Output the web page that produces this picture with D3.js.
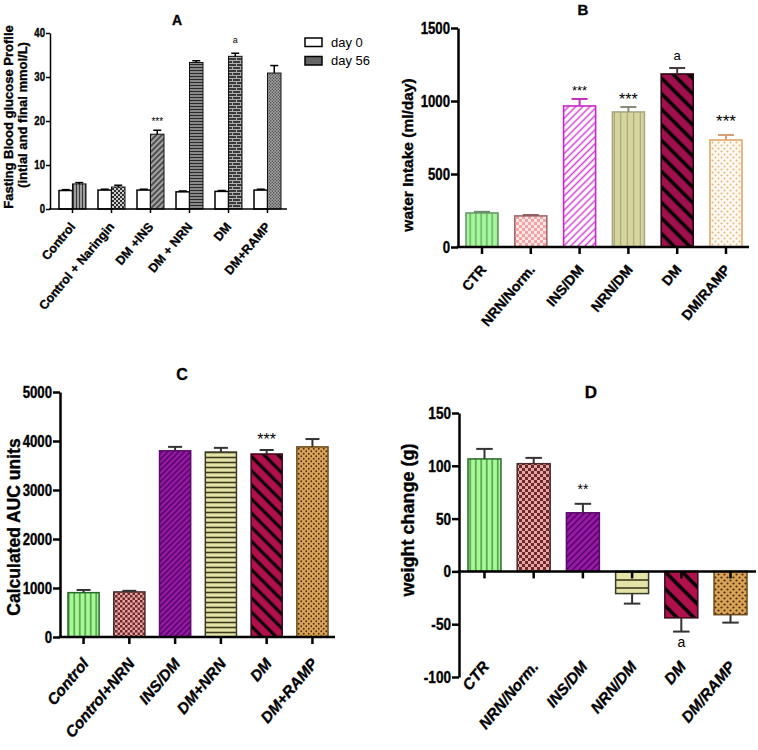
<!DOCTYPE html>
<html><head><meta charset="utf-8">
<script src="https://cdn.jsdelivr.net/npm/d3@7"></script>
<style>body{margin:0;background:#fff} svg{display:block}</style>
</head><body><svg id="chart" width="758" height="750"></svg>
<script>
// ---------- DATA ----------
const groupsA = ["Control", "Control + Naringin", "DM +INS", "DM + NRN", "DM", "DM+RAMP"];
const day0 = [4.2, 4.3, 4.3, 3.9, 4.0, 4.3];
const day0Err = [0.2, 0.2, 0.2, 0.2, 0.2, 0.2];
const day56 = [5.7, 5.0, 17.0, 33.3, 34.7, 30.9];
const day56Err = [0.3, 0.4, 0.9, 0.4, 0.7, 1.7];
const ticksA = [0, 10, 20, 30, 40];
const seriesA = ["day 0", "day 56"];

const groupsB = ["CTR", "NRN/Norm.", "INS/DM", "NRN/DM", "DM", "DM/RAMP"];
const waterIntake = [233, 213, 966, 925, 1185, 733];
const waterErr = [8, 6, 48, 34, 41, 34];
const ticksB = [0, 500, 1000, 1500];

const groupsC = ["Control", "Control+NRN", "INS/DM", "DM+NRN", "DM", "DM+RAMP"];
const aucValues = [905, 920, 3800, 3775, 3735, 3880];
const aucErr = [55, 22, 80, 85, 81, 160];
const ticksC = [0, 1000, 2000, 3000, 4000, 5000];

const groupsD = ["CTR", "NRN/Norm.", "INS/DM", "NRN/DM", "DM", "DM/RAMP"];
const weightChange = [106.5, 102, 55.5, -21, -44, -41];
const weightErr = [9.5, 5.5, 8.5, 9.5, 13, 7.5];
const ticksD = [-100, -50, 0, 50, 100, 150];

// ---------- SETUP ----------
const FONT = "'Liberation Sans', Arial, Helvetica, sans-serif";
const SQ = 0.8; // horizontal squeeze for condensed tick numerals
const svg = d3.select("#chart");
svg.append("rect").attr("width", 758).attr("height", 750).attr("fill", "#fff");
const defs = svg.append("defs");

function pat(id, w, h, bg, draw, tr) {
  const p = defs.append("pattern").attr("id", id).attr("patternUnits", "userSpaceOnUse")
    .attr("width", w).attr("height", h);
  if (tr) p.attr("patternTransform", tr);
  p.append("rect").attr("width", w).attr("height", h).attr("fill", bg);
  draw(p);
}
function vlines(id, bg, fg, sp, sw, tr) {
  pat(id, sp, 10, bg, p => p.append("line").attr("x1", sp / 2).attr("x2", sp / 2)
    .attr("y1", 0).attr("y2", 10).attr("stroke", fg).attr("stroke-width", sw), tr);
}
function hlines(id, bg, fg, sp, sw) {
  pat(id, 10, sp, bg, p => p.append("line").attr("y1", sp / 2).attr("y2", sp / 2)
    .attr("x1", 0).attr("x2", 10).attr("stroke", fg).attr("stroke-width", sw));
}
function checker(id, c1, c2, s) {
  pat(id, 2 * s, 2 * s, c1, p => {
    p.append("rect").attr("width", s).attr("height", s).attr("fill", c2);
    p.append("rect").attr("x", s).attr("y", s).attr("width", s).attr("height", s).attr("fill", c2);
  });
}
function dots(id, bg, fg, s, r) {
  pat(id, s, s, bg, p => {
    p.append("circle").attr("cx", s / 4).attr("cy", s / 4).attr("r", r).attr("fill", fg);
    p.append("circle").attr("cx", 3 * s / 4).attr("cy", 3 * s / 4).attr("r", r).attr("fill", fg);
  });
}
function brick(id, bg, fg) {
  pat(id, 8, 6, bg, p => {
    const l = (x1, y1, x2, y2) => p.append("line").attr("x1", x1).attr("y1", y1).attr("x2", x2).attr("y2", y2)
      .attr("stroke", fg).attr("stroke-width", 1);
    l(0, 0.5, 8, 0.5); l(0, 3.5, 8, 3.5); l(0.5, 0, 0.5, 3); l(4.5, 3, 4.5, 6);
  });
}

// A patterns (grayscale)
vlines("pA0", "#9c9c9c", "#3a3a3a", 3, 1);
checker("pA1", "#cfcfcf", "#2e2e2e", 2);
vlines("pA2", "#a4a4a4", "#2a2a2a", 4, 1.4, "rotate(45)");
hlines("pA3", "#a8a8a8", "#2a2a2a", 3, 1.5);
brick("pA4", "#3a3a3a", "#b0b0b0");
dots("pA5", "#a4a4a4", "#444", 3, 0.75);
// B patterns
vlines("pB0", "#a8f4a0", "#3a9a3a", 5.5, 1);
checker("pB1", "#fde6e6", "#f2a4a4", 3);
vlines("pB2", "#ffffff", "#d040d0", 5, 1.5, "rotate(45)");
vlines("pB3", "#d6d69c", "#9a9a7a", 6.5, 1);
vlines("pB4", "#a0104c", "#000", 11, 3.5, "rotate(-45)");
dots("pB5", "#fffaf4", "#eab070", 6, 1);
// C patterns
vlines("pC0", "#a8f898", "#1a6a1a", 5.5, 1);
checker("pC1", "#eaa4a4", "#6a2a2a", 2.5);
vlines("pC2", "#9a1aaa", "#4a0058", 4, 1.4, "rotate(45)");
hlines("pC3", "#e4e4a8", "#3c3a1c", 5, 1.6);
vlines("pC4", "#b0104c", "#000", 10, 3, "rotate(-45)");
dots("pC5", "#daa456", "#4a2a0a", 5, 0.9);
// D patterns
vlines("pD0", "#a8f898", "#1a6a1a", 5.5, 1);
checker("pD1", "#eaa4a4", "#6a2a2a", 3);
vlines("pD2", "#9a1aaa", "#4a0058", 4.5, 1.4, "rotate(45)");
hlines("pD3", "#e4e4a8", "#3c3a1c", 8, 1.6);
vlines("pD4", "#b0104c", "#000", 12, 3.5, "rotate(-45)");
dots("pD5", "#daa456", "#4a2a0a", 6, 1.1);

function txt(g, x, y, s, size, opts = {}) {
  const t = g.append("text").attr("x", x).attr("y", y).text(s)
    .attr("font-family", FONT).attr("font-size", size)
    .attr("font-weight", opts.weight || "bold").attr("font-style", opts.style || "normal")
    .attr("text-anchor", opts.anchor || "middle").attr("fill", opts.fill || "#000");
  if ((opts.weight || "bold") === "bold") t.attr("stroke", "#000").attr("stroke-width", 0.35);
  return t;
}
function squeezeTicks(ya, end) {
  ya.selectAll(".tick text").attr("fill", "#000").attr("stroke", "#000").attr("stroke-width", 0.35)
    .attr("x", -end / SQ).attr("transform", `scale(${SQ},1)`);
}

// ---------- PANEL A ----------
(function () {
  const g = svg.append("g");
  const x = d3.scaleBand().domain(groupsA).range([59, 281]).paddingInner(0.3077).paddingOuter(0);
  const y = d3.scaleLinear().domain([0, 40]).range([209, 33]);
  const bw = x.bandwidth() / 2;
  groupsA.forEach((grp, i) => {
    const x0 = x(grp);
    g.append("rect").attr("x", x0).attr("width", bw).attr("y", y(day0[i])).attr("height", y(0) - y(day0[i]))
      .attr("fill", "#fff").attr("stroke", "#000").attr("stroke-width", 1.5);
    g.append("rect").attr("x", x0 + bw).attr("width", bw).attr("y", y(day56[i])).attr("height", y(0) - y(day56[i]))
      .attr("fill", `url(#pA${i})`).attr("stroke", "#111").attr("stroke-width", 1);
    [[day0[i], day0Err[i], x0 + bw / 2], [day56[i], day56Err[i], x0 + 1.5 * bw]].forEach(([v, e, cx]) => {
      g.append("line").attr("x1", cx).attr("x2", cx).attr("y1", y(v)).attr("y2", y(v + e)).attr("stroke", "#000").attr("stroke-width", 1.5);
      g.append("line").attr("x1", cx - 4).attr("x2", cx + 4).attr("y1", y(v + e)).attr("y2", y(v + e)).attr("stroke", "#000").attr("stroke-width", 1.5);
    });
  });
  const ya = g.append("g").attr("transform", "translate(50,0)")
    .call(d3.axisLeft(y).tickValues(ticksA).tickFormat(d => String(d)).tickSize(4).tickSizeOuter(0).tickPadding(2));
  ya.attr("font-family", FONT).attr("font-size", 12).attr("font-weight", "bold");
  ya.select(".domain").attr("stroke", "#000").attr("stroke-width", 1.5);
  ya.selectAll(".tick line").attr("stroke", "#000").attr("stroke-width", 1.5);
  squeezeTicks(ya, 5);
  g.append("line").attr("x1", 49).attr("x2", 287).attr("y1", y(0)).attr("y2", y(0)).attr("stroke", "#000").attr("stroke-width", 1.5);
  const xa = g.append("g").attr("transform", `translate(0,${y(0)})`)
    .call(d3.axisBottom(x).tickSize(4).tickFormat(""));
  xa.select(".domain").remove();
  xa.selectAll(".tick line").attr("stroke", "#000").attr("stroke-width", 1.5);
  groupsA.forEach(grp => {
    txt(g, 0, 0, grp, 12.5, { anchor: "end" })
      .attr("transform", `translate(${x(grp) + x.bandwidth() / 2 + 3.5},227) rotate(-50)`);
  });
  // y label
  txt(g, 0, 0, "Fasting Blood glucose Profile", 13).attr("transform", "translate(13,117) rotate(-90)");
  txt(g, 0, 0, "(intial and final mmol/L)", 13).attr("transform", "translate(27,115) rotate(-90)");
  txt(g, 177, 25, "A", 14);
  // legend
  const leg = [{ fill: "#fff" }, { fill: "#666" }];
  seriesA.forEach((s, i) => {
    g.append("rect").attr("x", 305).attr("y", 38 + i * 18.5).attr("width", 17).attr("height", 8.5)
      .attr("fill", leg[i].fill).attr("stroke", "#000").attr("stroke-width", 1.5);
    txt(g, 331, 46.5 + i * 18.5, s, 13, { anchor: "start", weight: "normal" });
  });
  // annotations
  txt(g, x(groupsA[2]) + 1.5 * bw, 125, "***", 10, { weight: "normal" });
  txt(g, x(groupsA[4]) + 1.5 * bw, 43, "a", 9, { weight: "normal" });
})();

// ---------- generic panel ----------
function panel(o) {
  const g = svg.append("g");
  const x = d3.scaleBand().domain(o.groups).range(o.xRange).paddingInner(o.pad).paddingOuter(0);
  const y = d3.scaleLinear().domain(o.yDomain).range(o.yRange);
  const bw = x.bandwidth();
  const y0 = y(0);
  g.selectAll("rect.bar").data(o.values).join("rect").attr("class", "bar")
    .attr("x", (d, i) => x(o.groups[i])).attr("width", bw)
    .attr("y", d => Math.min(y(d), y0)).attr("height", d => Math.abs(y(d) - y0))
    .attr("fill", (d, i) => `url(#${o.pat}${i})`)
    .attr("stroke", (d, i) => o.strokes[i]).attr("stroke-width", o.barStroke);
  o.values.forEach((v, i) => {
    const cx = x(o.groups[i]) + bw / 2;
    const e = v >= 0 ? v + o.errs[i] : v - o.errs[i];
    g.append("line").attr("x1", cx).attr("x2", cx).attr("y1", y(v)).attr("y2", y(e))
      .attr("stroke", o.errColors[i]).attr("stroke-width", 2);
    g.append("line").attr("x1", cx - bw * o.cap / 2).attr("x2", cx + bw * o.cap / 2).attr("y1", y(e)).attr("y2", y(e))
      .attr("stroke", o.errColors[i]).attr("stroke-width", 2);
  });
  const ya = g.append("g").attr("transform", `translate(${o.axisX},0)`)
    .call(d3.axisLeft(y).tickValues(o.ticks).tickFormat(d => String(d)).tickSize(7).tickSizeOuter(0));
  ya.attr("font-family", FONT).attr("font-size", o.tickFont).attr("font-weight", "bold");
  ya.select(".domain").attr("stroke", "#000").attr("stroke-width", 2.5);
  ya.selectAll(".tick line").attr("stroke", "#000").attr("stroke-width", 2.5);
  squeezeTicks(ya, 8);
  g.append("line").attr("x1", o.axisX - 1.25).attr("x2", o.xEnd).attr("y1", y0).attr("y2", y0)
    .attr("stroke", "#000").attr("stroke-width", 2.5);
  const xa = g.append("g").attr("transform", `translate(0,${y0})`)
    .call(d3.axisBottom(x).tickSize(7).tickFormat(""));
  xa.select(".domain").remove();
  xa.selectAll(".tick line").attr("stroke", "#000").attr("stroke-width", 2.5);
  o.groups.forEach(grp => {
    txt(g, 0, 0, grp, o.labelFont, { anchor: "end", style: o.italic ? "italic" : "normal" })
      .attr("transform", `translate(${x(grp) + bw / 2 + o.lab[0]},${o.lab[1]}) rotate(-50)`);
  });
  txt(g, 0, 0, o.ylabel, o.ylabelSize).attr("transform", `translate(${o.ylabelPos[0]},${o.ylabelPos[1]}) rotate(-90)`);
  txt(g, o.title[1], o.title[2], o.title[0], o.title[3]);
  o.notes.forEach(n => {
    txt(g, x(o.groups[n.i]) + bw / 2, n.y, n.t, n.size, { weight: n.w || "normal" });
  });
}

panel({
  groups: groupsB, values: waterIntake, errs: waterErr, ticks: ticksB,
  xRange: [466, 742], pad: 0.344, yDomain: [0, 1500], yRange: [247, 28], axisX: 458, xEnd: 749,
  pat: "pB", strokes: ["#6a9a6a", "#a06a6a", "#c828c8", "#a8a888", "#2a0010", "#e0a868"],
  errColors: ["#6a8a6a", "#906060", "#c030c0", "#8a8a7a", "#4a3a40", "#d8a070"],
  barStroke: 1.6, cap: 0.5, tickFont: 16.5, labelFont: 14, italic: false, lab: [5, 270],
  ylabel: "water Intake (ml/day)", ylabelSize: 15.5, ylabelPos: [413, 155], title: ["B", 583, 15, 15],
  notes: [{ i: 2, t: "***", y: 95, size: 13 }, { i: 3, t: "***", y: 104.5, size: 16 },
          { i: 4, t: "a", y: 59.5, size: 13 }, { i: 5, t: "***", y: 127, size: 17 }]
});

panel({
  groups: groupsC, values: aucValues, errs: aucErr, ticks: ticksC,
  xRange: [68, 328], pad: 0.32, yDomain: [0, 5000], yRange: [637, 392], axisX: 60, xEnd: 335,
  pat: "pC", strokes: ["#2a6a2a", "#4a2a2a", "#5a0a6a", "#3a3a2a", "#3a0a1a", "#6a4a1a"],
  errColors: ["#333", "#333", "#333", "#333", "#333", "#333"],
  barStroke: 1.5, cap: 0.45, tickFont: 16.5, labelFont: 15.5, italic: true, lab: [6, 664],
  ylabel: "Calculated AUC units", ylabelSize: 17.5, ylabelPos: [20, 527], title: ["C", 182, 380, 16],
  notes: [{ i: 4, t: "***", y: 445, size: 16 }]
});

panel({
  groups: groupsD, values: weightChange, errs: weightErr, ticks: ticksD,
  xRange: [468, 747], pad: 0.33, yDomain: [-100, 150], yRange: [677, 413], axisX: 459, xEnd: 756,
  pat: "pD", strokes: ["#2a6a2a", "#4a2a2a", "#5a0a6a", "#3a3a2a", "#3a0a1a", "#6a4a1a"],
  errColors: ["#333", "#333", "#333", "#333", "#333", "#333"],
  barStroke: 1.5, cap: 0.5, tickFont: 17, labelFont: 15.5, italic: true, lab: [5.5, 667],
  ylabel: "weight change (g)", ylabelSize: 18, ylabelPos: [414, 520], title: ["D", 591, 398, 17],
  notes: [{ i: 2, t: "**", y: 494, size: 14 }, { i: 4, t: "a", y: 647, size: 14 }]
});
</script>
</body></html>
